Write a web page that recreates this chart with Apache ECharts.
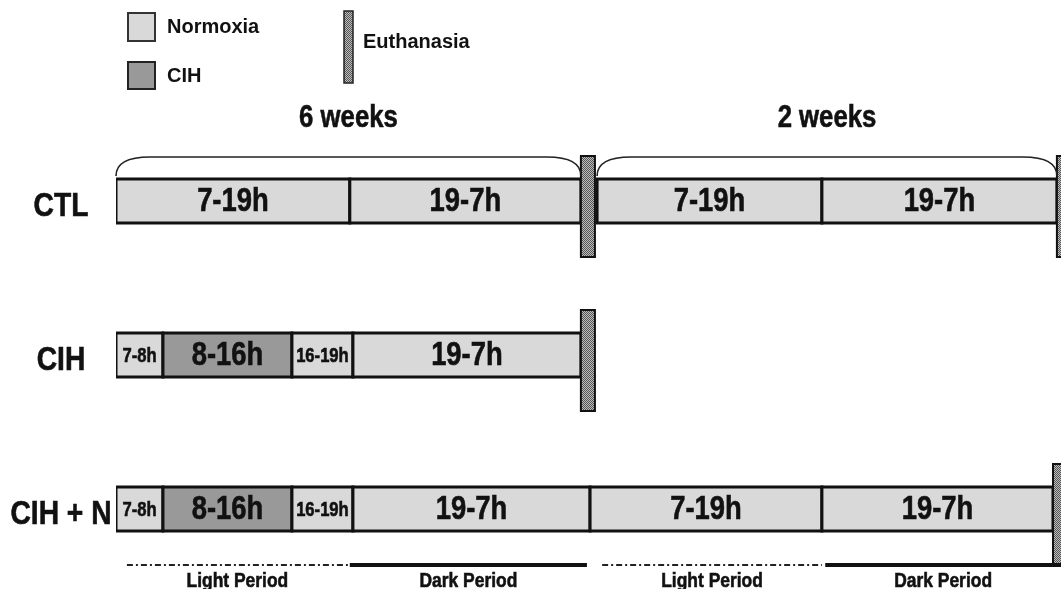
<!DOCTYPE html>
<html>
<head>
<meta charset="utf-8">
<script src="https://cdn.jsdelivr.net/npm/echarts@6/dist/echarts.min.js"></script>
<style>html,body{margin:0;padding:0;background:#fff}#c{width:1061px;height:589px}</style>
</head>
<body>
<div id="c"></div>
<script>
// ---- data (schematic time units along the x axis) ----
const rowNames = ['CTL', 'CIH', 'CIH + N'];

const segRow   = [0, 0, 0, 0,   1, 1, 1, 1,   2, 2, 2, 2, 2, 2];
const segStart = [0, 12, 24.69, 36.23,   0, 2.41, 9.03, 12.16,   0, 2.41, 9.03, 12.16, 24.33, 36.23];
const segEnd   = [12, 23.86, 36.23, 48.29,   2.41, 9.03, 12.16, 23.86,   2.41, 9.03, 12.16, 24.33, 36.23, 48.09];
const segLabel = ['7-19h', '19-7h', '7-19h', '19-7h',   '7-8h', '8-16h', '16-19h', '19-7h',   '7-8h', '8-16h', '16-19h', '19-7h', '7-19h', '19-7h'];
const segCond  = ['Normoxia', 'Normoxia', 'Normoxia', 'Normoxia',   'Normoxia', 'CIH', 'Normoxia', 'Normoxia',   'Normoxia', 'CIH', 'Normoxia', 'Normoxia', 'Normoxia', 'Normoxia'];

const euthRow   = [0, 0, 1, 2];
const euthStart = [23.86, 48.29, 23.86, 48.09];
const euthEnd   = [24.58, 49.1, 24.58, 48.9];

const braceRow   = [0, 0];
const braceStart = [0, 24.69];
const braceEnd   = [23.86, 48.29];
const braceLabel = ['6 weeks', '2 weeks'];

const periodRow   = [2, 2, 2, 2];
const periodStart = [0.56, 12.0, 24.95, 36.4];
const periodEnd   = [11.9, 24.17, 36.23, 48.5];
const periodLabel = ['Light Period', 'Dark Period', 'Light Period', 'Dark Period'];
const periodKind  = ['light', 'dark', 'light', 'dark'];

const legendNames = ['Normoxia', 'CIH', 'Euthanasia'];

// ---- styles ----
const FONT = '"Liberation Sans", Arial, sans-serif';
const SQUEEZE = 0.83;
const condColor = { Normoxia: '#d9d9d9', CIH: '#999999' };
const INK = '#111111';

function narrowText(text, x, y, size) {
  return {
    type: 'text', x: x, y: y, scaleX: SQUEEZE, scaleY: 1,
    style: { text: text, x: 0, y: 0, align: 'center', verticalAlign: 'middle',
             fill: INK, font: 'bold ' + size + 'px ' + FONT,
             stroke: INK, lineWidth: 0.6 }
  };
}

function checker() {
  const cv = document.createElement('canvas');
  cv.width = 2; cv.height = 2;
  const g = cv.getContext('2d');
  g.fillStyle = '#bdbdbd'; g.fillRect(0, 0, 2, 2);
  g.fillStyle = '#555555'; g.fillRect(0, 0, 1, 1); g.fillRect(1, 1, 1, 1);
  return cv;
}
const euthFill = { image: checker(), repeat: 'repeat' };

const chart = echarts.init(document.getElementById('c'), null, { renderer: 'canvas' });

const BAR_H = 44;

const option = {
  backgroundColor: '#ffffff',
  animation: false,
  grid: { left: 116, right: 0, top: 124, height: 462 },
  xAxis: { type: 'value', min: 0, max: 48.5, show: false },
  yAxis: {
    type: 'category', data: rowNames, inverse: true,
    axisLine: { show: false }, axisTick: { show: false }, splitLine: { show: false },
    axisLabel: { show: false }
  },
  graphic: [
    { type: 'rect', shape: { x: 128, y: 13, width: 27, height: 28 }, style: { fill: condColor.Normoxia, stroke: '#333', lineWidth: 2 } },
    { type: 'text', x: 167, y: 27, style: { text: legendNames[0], font: 'bold 20px ' + FONT, fill: INK, verticalAlign: 'middle' } },
    { type: 'rect', shape: { x: 128, y: 62, width: 27, height: 27 }, style: { fill: condColor.CIH, stroke: '#222', lineWidth: 2 } },
    { type: 'text', x: 167, y: 76, style: { text: legendNames[1], font: 'bold 20px ' + FONT, fill: INK, verticalAlign: 'middle' } },
    { type: 'rect', shape: { x: 344, y: 11, width: 9, height: 72 }, style: { fill: euthFill, stroke: '#222', lineWidth: 1.5 } },
    { type: 'text', x: 363, y: 42, style: { text: legendNames[2], font: 'bold 20px ' + FONT, fill: INK, verticalAlign: 'middle' } }
  ],
  series: [
    {
      // row labels (drawn through the category axis)
      type: 'custom', clip: false,
      data: rowNames.map((n, i) => [0, i]),
      encode: { x: 0, y: 1 },
      renderItem(params, api) {
        const p = api.coord([api.value(0), api.value(1)]);
        return narrowText(rowNames[params.dataIndex], p[0] - 55, p[1] + 6, 34);
      }
    },
    {
      type: 'custom', clip: true,
      data: segStart.map((s, i) => [s, segEnd[i], segRow[i]]),
      encode: { x: [0, 1], y: 2 },
      renderItem(params, api) {
        const i = params.dataIndex;
        const p0 = api.coord([api.value(0), api.value(2)]);
        const p1 = api.coord([api.value(1), api.value(2)]);
        const w = p1[0] - p0[0];
        const small = (segEnd[i] - segStart[i]) < 4;
        return {
          type: 'group',
          children: [
            { type: 'rect', shape: { x: p0[0], y: p0[1] - BAR_H / 2, width: w, height: BAR_H },
              style: { fill: condColor[segCond[i]], stroke: INK, lineWidth: 3 } },
            narrowText(segLabel[i], p0[0] + w / 2, p0[1] + 1, small ? 20 : 33)
          ]
        };
      }
    },
    {
      type: 'custom', clip: true, z: 3,
      data: euthStart.map((s, i) => [s, euthEnd[i], euthRow[i]]),
      encode: { x: [0, 1], y: 2 },
      renderItem(params, api) {
        const p0 = api.coord([api.value(0), api.value(2)]);
        const p1 = api.coord([api.value(1), api.value(2)]);
        return {
          type: 'rect', shape: { x: p0[0], y: p0[1] - 45, width: p1[0] - p0[0], height: 101 },
          style: { fill: euthFill, stroke: INK, lineWidth: 2 }
        };
      }
    },
    {
      type: 'custom', clip: false, z: 4,
      data: braceStart.map((s, i) => [s, braceEnd[i], braceRow[i]]),
      encode: { x: [0, 1], y: 2 },
      renderItem(params, api) {
        const i = params.dataIndex;
        const p0 = api.coord([api.value(0), api.value(2)]);
        const p1 = api.coord([api.value(1), api.value(2)]);
        const c = p0[1];
        const top = c - 44, end = c - 25, r = 34;
        const x0 = p0[0], x1 = p1[0];
        const d = 'M' + x0 + ' ' + end + ' Q' + x0 + ' ' + top + ' ' + (x0 + r) + ' ' + top +
          ' L' + (x1 - r) + ' ' + top + ' Q' + x1 + ' ' + top + ' ' + x1 + ' ' + end;
        return {
          type: 'group',
          children: [
            { type: 'path', shape: { pathData: d }, style: { fill: 'none', stroke: '#222', lineWidth: 1.6 } },
            narrowText(braceLabel[i], (x0 + x1) / 2, c - 83, 31)
          ]
        };
      }
    },
    {
      type: 'custom', clip: false, z: 4,
      data: periodStart.map((s, i) => [s, periodEnd[i], periodRow[i]]),
      encode: { x: [0, 1], y: 2 },
      renderItem(params, api) {
        const i = params.dataIndex;
        const p0 = api.coord([api.value(0), api.value(2)]);
        const p1 = api.coord([api.value(1), api.value(2)]);
        const y = p0[1] + 56;
        const light = periodKind[i] === 'light';
        return {
          type: 'group',
          children: [
            { type: 'line', shape: { x1: p0[0], y1: y, x2: p1[0], y2: y },
              style: light ? { stroke: '#222', lineWidth: 2, lineDash: [6, 3, 2, 3] }
                           : { stroke: INK, lineWidth: 4 } },
            narrowText(periodLabel[i], (p0[0] + p1[0]) / 2, p0[1] + 72, 21)
          ]
        };
      }
    }
  ]
};
chart.setOption(option);
</script>
</body>
</html>
